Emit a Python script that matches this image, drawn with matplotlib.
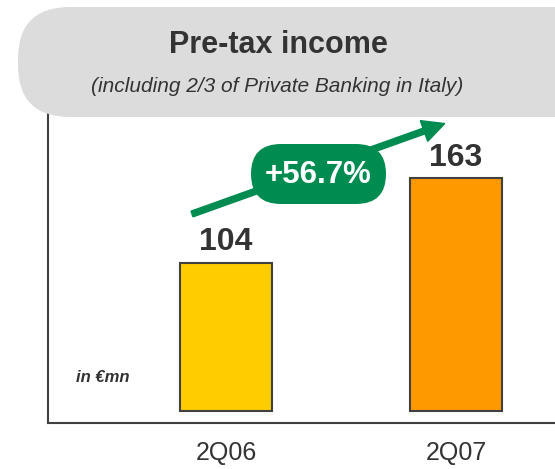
import matplotlib
matplotlib.use('Agg')
import matplotlib.pyplot as plt
from matplotlib.patches import FancyBboxPatch, FancyArrow

# quarterly pre-tax income, EUR mn
quarters = ['2Q06', '2Q07']
income = [104, 163]
growth_label = '+56.7%'
bar_colors = ['#FFCC00', '#FF9900']

plt.rcParams['font.family'] = ['Liberation Sans', 'DejaVu Sans']
dark = '#333333'

W, H = 555, 469
fig = plt.figure(figsize=(W / 100, H / 100), dpi=100)

# main bar axes
ax = fig.add_axes([48 / W, (H - 423) / H, (W - 48) / W, (423 - 110) / H])
x = list(range(len(quarters)))
bars = ax.bar(x, income, width=0.4, color=bar_colors, edgecolor='#404040', linewidth=1.5, zorder=3)
for b, v in zip(bars, income):
    ax.annotate(str(v), (b.get_x() + b.get_width() / 2, v), xytext=(0, 4),
                textcoords='offset points', ha='center', va='bottom',
                fontsize=23, fontweight='bold', color=dark)

ax.set_xlim(-0.774, 1.43)
ax.set_ylim(-8.4, 211)
ax.set_xticks(x)
ax.set_xticklabels(quarters, fontsize=18, color=dark)
ax.tick_params(axis='x', length=0, pad=13)
ax.set_yticks([])
for s in ['top', 'right']:
    ax.spines[s].set_visible(False)
for s in ['left', 'bottom']:
    ax.spines[s].set_color('#404040')
    ax.spines[s].set_linewidth(1.5)

ax.text(0.055, 0.145, 'in €mn', transform=ax.transAxes, fontsize=12,
        fontweight='bold', fontstyle='italic', color=dark, ha='left', va='center')

# overlay in pixel coordinates for the header and growth arrow
ov = fig.add_axes([0, 0, 1, 1])
ov.set_xlim(0, W)
ov.set_ylim(H, 0)
ov.axis('off')
ov.patch.set_alpha(0)

pill = FancyBboxPatch((18, 7), 590, 110, boxstyle='round,pad=0,rounding_size=52',
                      facecolor='#DCDCDC', edgecolor='none', zorder=1)
ov.add_patch(pill)
ov.text(278, 45, 'Pre-tax income', ha='center', va='center', fontsize=22,
        fontweight='bold', color=dark, zorder=2)
ov.text(277, 87, '(including 2/3 of Private Banking in Italy)', ha='center', va='center',
        fontsize=15, fontstyle='italic', color=dark, zorder=2)

green = '#008C50'
ov.add_patch(FancyArrow(192, 214, 232, -83, width=6, head_width=22, head_length=22,
                        length_includes_head=False, color=green, zorder=3))
badge = FancyBboxPatch((251, 144), 135, 60, boxstyle='round,pad=0,rounding_size=30',
                       facecolor=green, edgecolor='none', zorder=4)
ov.add_patch(badge)
ov.text(318, 175, growth_label, ha='center', va='center', fontsize=22.5,
        fontweight='bold', color='white', zorder=5)

fig.savefig('out.png', dpi=100)
